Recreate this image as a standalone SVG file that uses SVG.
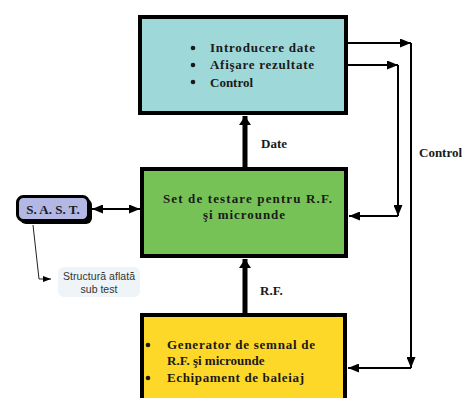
<svg xmlns="http://www.w3.org/2000/svg" width="468" height="398" viewBox="0 0 468 398">
<style>
.box{stroke:#000;stroke-width:4}
.t{font-family:"Liberation Serif","DejaVu Serif",serif;font-weight:bold;font-size:13px;fill:#1a1a1a}
.ln{stroke:#000;stroke-width:2;fill:none}
.thick{stroke:#000;stroke-width:5;fill:none}
.note{font-family:"Liberation Sans","DejaVu Sans",sans-serif;font-size:10.5px;fill:#333}
</style>
<defs>
<marker id="ah" viewBox="0 0 11 9" refX="11" refY="4.5" markerWidth="11" markerHeight="9" markerUnits="userSpaceOnUse" orient="auto">
<path d="M0,0 L11,4.5 L0,9 Z" fill="#000"/>
</marker>
<marker id="ahs" viewBox="0 0 11 9" refX="11" refY="4.5" markerWidth="11" markerHeight="9" markerUnits="userSpaceOnUse" orient="auto-start-reverse">
<path d="M0,0 L11,4.5 L0,9 Z" fill="#000"/>
</marker>
<marker id="big" viewBox="0 0 12 16" refX="12" refY="8" markerWidth="16" markerHeight="12" markerUnits="userSpaceOnUse" orient="auto">
<path d="M0,0 L12,8 L0,16 Z" fill="#000"/>
</marker>
<marker id="sm" viewBox="0 0 8 6" refX="8" refY="3" markerWidth="8" markerHeight="6" markerUnits="userSpaceOnUse" orient="auto">
<path d="M0,0 L8,3 L0,6 Z" fill="#000"/>
</marker>
</defs>
<rect width="468" height="398" fill="#fff"/>

<g id="connectors">
<path class="thick" d="M245,167 V116" marker-end="url(#big)"/>
<path class="thick" d="M245,313 V259" marker-end="url(#big)"/>
<path class="ln" d="M92,209 H140" marker-start="url(#ahs)" marker-end="url(#ahs)"/>
<path class="ln" d="M348,43 H411" marker-end="url(#ah)"/>
<path class="ln" d="M411,43 V368" marker-end="url(#ah)"/>
<path class="ln" d="M411,368 H348" marker-end="url(#ah)"/>
<path class="ln" d="M348,65 H398" marker-end="url(#ah)"/>
<path class="ln" d="M398,65 V216" marker-end="url(#ah)"/>
<path class="ln" d="M398,216 H349" marker-end="url(#ah)"/>
<path d="M33,225 L39,279 H51" fill="none" stroke="#222" stroke-width="1" marker-end="url(#sm)"/>
<text class="t" x="261" y="148">Date</text>
<text class="t" x="260" y="295">R.F.</text>
<text class="t" x="419" y="157">Control</text>
</g>

<g id="pc">
<rect class="box" x="140" y="17" width="206" height="96" fill="#9fd8d8"/>
<circle cx="193" cy="48" r="2.3" fill="#1a1a1a"/>
<circle cx="193" cy="65" r="2.3" fill="#1a1a1a"/>
<circle cx="193" cy="82" r="2.3" fill="#1a1a1a"/>
<text class="t" x="210" y="52" textLength="105">Introducere date</text>
<text class="t" x="210" y="69" textLength="104">Afişare rezultate</text>
<text class="t" x="210" y="87">Control</text>
</g>

<g id="set">
<rect class="box" x="142" y="169" width="204" height="87" fill="#77c257"/>
<text class="t" x="163" y="203" textLength="169">Set de testare pentru R.F.</text>
<text class="t" x="203" y="219" textLength="82">şi microunde</text>
</g>

<g id="generator">
<rect class="box" x="142" y="315" width="203" height="100" fill="#fdd829"/>
<circle cx="148" cy="345" r="2.3" fill="#1a1a1a"/>
<circle cx="148" cy="378" r="2.3" fill="#1a1a1a"/>
<text class="t" x="167" y="349" textLength="148">Generator de semnal de</text>
<text class="t" x="167" y="365">R.F.  şi microunde</text>
<text class="t" x="167" y="382" textLength="137">Echipament de baleiaj</text>
</g>

<g id="sast">
<rect x="20" y="199" width="72" height="25" rx="6" fill="#000"/>
<rect x="17.5" y="196.5" width="71" height="24" rx="6" fill="#b3b7e3" stroke="#000" stroke-width="3"/>
<text class="t" x="53" y="213.5" text-anchor="middle">S. A. S. T.</text>
</g>

<g id="note">
<rect x="58" y="267" width="82" height="30" rx="6" fill="#eef4f7"/>
<text class="note" x="99" y="280" text-anchor="middle" textLength="72">Structură aflată</text>
<text class="note" x="99" y="293" text-anchor="middle">sub test</text>
</g>
</svg>
